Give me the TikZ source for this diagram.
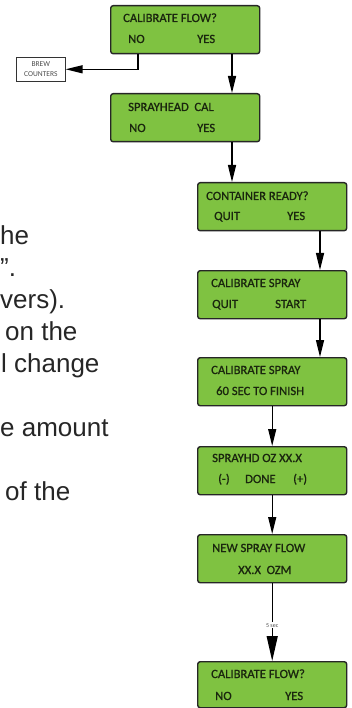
\documentclass[tikz,border=0pt]{standalone}
\usepackage{fontspec}
\setmainfont{Liberation Sans}
\newfontfamily\lcdfont[FakeBold=0.9]{Carlito}
\newfontfamily\tagfont{Carlito}
\usetikzlibrary{arrows.meta,calc}
\definecolor{lcdgreen}{HTML}{7FC241}
\definecolor{lcdink}{HTML}{1A260E}
\definecolor{pageink}{HTML}{262626}

\begin{document}
\begin{tikzpicture}[x=1pt,y=-1pt,
    lcd/.style={draw=black!85, line width=1.4pt, rounded corners=2.5pt, fill=lcdgreen, minimum width=149pt, minimum height=48pt, inner sep=0pt, anchor=north west},
    lcdtxt/.style={anchor=base west, inner sep=0pt, text=lcdink, font=\lcdfont\fontsize{12.6}{14}\selectfont},
    flow/.style={-{Triangle[length=17pt,width=8pt]}, line width=1.3pt},
    page/.style={anchor=base west, inner sep=0pt, text=pageink, font=\fontsize{26}{30}\selectfont}]

    \useasboundingbox (0,0) rectangle (352,708);

    \node[page] (pg1) at (0,244) {he};
    \node[page] (pg2) at (0,276) {”.};
    \node[page] (pg3) at (0,308) {vers).};
    \node[page] (pg4) at (5,340) {on the};
    \node[page] (pg5) at (1,372) {l change};
    \node[page] (pg6) at (0,436) {e amount};
    \node[page] (pg7) at (5,500) {of the};

    \node[lcd] (calflow) at (110,5) {};
    \node[lcdtxt] at ($(calflow.north west)+(13,17)$) {CALIBRATE FLOW?};
    \node[lcdtxt] at ($(calflow.north west)+(18,38)$) {NO};
    \node[lcdtxt] at ($(calflow.north west)+(87,38)$) {YES};

    \node[draw=black!80, line width=0.6pt, minimum width=49pt, minimum height=24pt, anchor=north west, inner sep=0pt, align=center, text=black!70, font=\tagfont\fontsize{7.5}{10}\selectfont] (brew) at (16,57) {BREW\\COUNTERS};

    \node[lcd] (sprayhd) at (110,93) {};
    \node[lcdtxt] at ($(sprayhd.north west)+(18,18)$) {SPRAYHEAD\ \ CAL};
    \node[lcdtxt] at ($(sprayhd.north west)+(19,39)$) {NO};
    \node[lcdtxt] at ($(sprayhd.north west)+(87,39)$) {YES};

    \node[lcd] (ready) at (197,182) {};
    \node[lcdtxt] at ($(ready.north west)+(9,18)$) {CONTAINER READY?};
    \node[lcdtxt] at ($(ready.north west)+(17,38)$) {QUIT};
    \node[lcdtxt] at ($(ready.north west)+(90,38)$) {YES};

    \node[lcd] (calspray) at (197,270) {};
    \node[lcdtxt] at ($(calspray.north west)+(14,17)$) {CALIBRATE SPRAY};
    \node[lcdtxt] at ($(calspray.north west)+(15,38)$) {QUIT};
    \node[lcdtxt] at ($(calspray.north west)+(78,38)$) {START};

    \node[lcd] (timer) at (197,357) {};
    \node[lcdtxt] at ($(timer.north west)+(14,17)$) {CALIBRATE SPRAY};
    \node[lcdtxt] at ($(timer.north west)+(19,38)$) {60 SEC TO FINISH};

    \node[lcd] (ozadj) at (197,446) {};
    \node[lcdtxt] at ($(ozadj.north west)+(15,16)$) {SPRAYHD OZ XX.X};
    \node[lcdtxt] at ($(ozadj.north west)+(21,37)$) {(-)};
    \node[lcdtxt] at ($(ozadj.north west)+(48,37)$) {DONE};
    \node[lcdtxt] at ($(ozadj.north west)+(96,37)$) {(+)};

    \node[lcd] (newflow) at (197,534) {};
    \node[lcdtxt] at ($(newflow.north west)+(15,18)$) {NEW SPRAY FLOW};
    \node[lcdtxt] at ($(newflow.north west)+(41,40)$) {XX.X\ \ OZM};

    \node[lcd, minimum height=46pt] (calflow2) at (197,661) {};
    \node[lcdtxt] at ($(calflow2.north west)+(14,17)$) {CALIBRATE FLOW?};
    \node[lcdtxt] at ($(calflow2.north west)+(18,39)$) {NO};
    \node[lcdtxt] at ($(calflow2.north west)+(88,39)$) {YES};

    \draw[flow] ([xshift=28pt]calflow.south west) |- (brew.east);
    \draw[flow] ([xshift=122pt]calflow.south west) -- ([xshift=122pt]sprayhd.north west);
    \draw[flow] ([xshift=122pt]sprayhd.south west) -- ([xshift=122pt]sprayhd.south west |- ready.north);
    \draw[flow] ([xshift=123pt]ready.south west) -- ([xshift=123pt]calspray.north west);
    \draw[flow] ([xshift=123pt]calspray.south west) -- ([xshift=123pt]timer.north west);
    \draw[flow] (timer.south) -- (ozadj.north);
    \draw[flow] (ozadj.south) -- (newflow.north);
    \draw[line width=1.3pt, -{Triangle[length=25pt,width=11pt]}] (newflow.south) -- node[pos=0.54, fill=white, inner sep=1pt, text=black!70, font=\tagfont\fontsize{6}{7}\selectfont] {5 sec} (calflow2.north);
\end{tikzpicture}
\end{document}
